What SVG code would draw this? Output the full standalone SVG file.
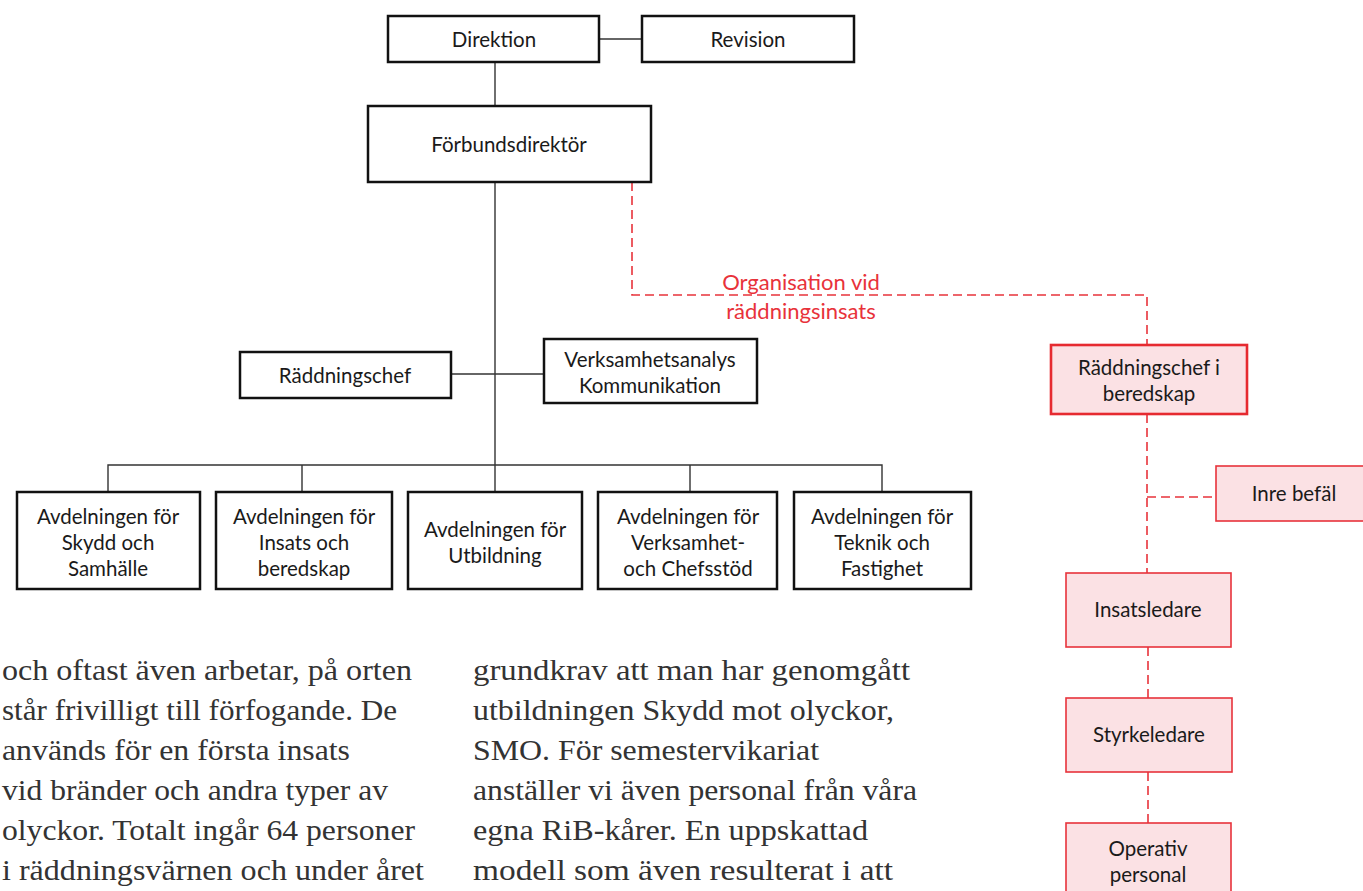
<svg xmlns="http://www.w3.org/2000/svg" width="1363" height="891" viewBox="0 0 1363 891">
<style>
.box{fill:#fff;stroke:#111;stroke-width:2.5}
.rbox{fill:#fbe1e4;stroke:#e8333b;stroke-width:1.6}
.rbox2{fill:#fbe1e4;stroke:#e62a30;stroke-width:2.6}
.t{font-family:Lato,"Open Sans",sans-serif;font-size:20.5px;fill:#1a1a1a;text-anchor:middle}
.lbl{font-family:Lato,"Open Sans",sans-serif;font-size:22px;fill:#e8323a;text-anchor:middle}
.ln{fill:none;stroke:#333;stroke-width:1.4}
.dl{fill:none;stroke:#e8333b;stroke-width:1.6;stroke-dasharray:9 5}
.body{font-family:"Liberation Serif",serif;font-size:30px;fill:#333}
</style>
<g id="connectors">
<path class="ln" d="M599,39H642"/>
<path class="ln" d="M495,62V106"/>
<path class="ln" d="M495,182V492"/>
<path class="ln" d="M451,374H544"/>
<path class="ln" d="M108,492V465H882V492M302,465V492M690,465V492"/>
<path class="dl" d="M632,182V295H1147V345"/>
<path class="dl" d="M1147,414V573M1147,497H1215"/>
<path class="dl" d="M1148,647V698M1148,772V823"/>
<text class="lbl" x="801" y="290">Organisation vid</text>
<text class="lbl" x="801" y="319">räddningsinsats</text>
</g>
<g id="direktion"><rect class="box" x="388" y="16" width="211" height="46"/><text class="t" x="494" y="47">Direktion</text></g>
<g id="revision"><rect class="box" x="642" y="16" width="212" height="46"/><text class="t" x="748" y="47">Revision</text></g>
<g id="forbundsdirektor"><rect class="box" x="368" y="106" width="283" height="76"/><text class="t" x="509" y="152">Förbundsdirektör</text></g>
<g id="raddningschef"><rect class="box" x="240" y="352" width="211" height="46"/><text class="t" x="345" y="383">Räddningschef</text></g>
<g id="verksamhetsanalys"><rect class="box" x="544" y="339" width="213" height="64"/><text class="t" x="650" y="367">Verksamhetsanalys</text><text class="t" x="650" y="393">Kommunikation</text></g>
<g id="avd1"><rect class="box" x="17" y="492" width="183" height="97"/><text class="t" x="108" y="524">Avdelningen för</text><text class="t" x="108" y="550">Skydd och</text><text class="t" x="108" y="576">Samhälle</text></g>
<g id="avd2"><rect class="box" x="216" y="492" width="176" height="97"/><text class="t" x="304" y="524">Avdelningen för</text><text class="t" x="304" y="550">Insats och</text><text class="t" x="304" y="576">beredskap</text></g>
<g id="avd3"><rect class="box" x="408" y="492" width="174" height="97"/><text class="t" x="495" y="537">Avdelningen för</text><text class="t" x="495" y="563">Utbildning</text></g>
<g id="avd4"><rect class="box" x="598" y="492" width="179" height="97"/><text class="t" x="688" y="524">Avdelningen för</text><text class="t" x="688" y="550">Verksamhet-</text><text class="t" x="688" y="576">och Chefsstöd</text></g>
<g id="avd5"><rect class="box" x="794" y="492" width="177" height="97"/><text class="t" x="882" y="524">Avdelningen för</text><text class="t" x="882" y="550">Teknik och</text><text class="t" x="882" y="576">Fastighet</text></g>
<g id="rcib"><rect class="rbox2" x="1051" y="345" width="196" height="69"/><text class="t" x="1149" y="375">Räddningschef i</text><text class="t" x="1149" y="401">beredskap</text></g>
<g id="inrebefal"><rect class="rbox" x="1216" y="466" width="150" height="55"/><text class="t" x="1294" y="501">Inre befäl</text></g>
<g id="insatsledare"><rect class="rbox" x="1066" y="573" width="165" height="74"/><text class="t" x="1148" y="617">Insatsledare</text></g>
<g id="styrkeledare"><rect class="rbox" x="1066" y="698" width="166" height="74"/><text class="t" x="1149" y="742">Styrkeledare</text></g>
<g id="operativ"><rect class="rbox" x="1066" y="823" width="165" height="75"/><text class="t" x="1148" y="856">Operativ</text><text class="t" x="1148" y="882">personal</text></g>
<g id="bodytext">
<text class="body" x="2" y="680" textLength="410" lengthAdjust="spacingAndGlyphs">och oftast även arbetar, på orten</text>
<text class="body" x="2" y="720" textLength="395" lengthAdjust="spacingAndGlyphs">står frivilligt till förfogande. De</text>
<text class="body" x="2" y="760" textLength="348" lengthAdjust="spacingAndGlyphs">används för en första insats</text>
<text class="body" x="2" y="800" textLength="386" lengthAdjust="spacingAndGlyphs">vid bränder och andra typer av</text>
<text class="body" x="2" y="840" textLength="413" lengthAdjust="spacingAndGlyphs">olyckor. Totalt ingår 64 personer</text>
<text class="body" x="2" y="880" textLength="422" lengthAdjust="spacingAndGlyphs">i räddningsvärnen och under året</text>
<text class="body" x="473" y="680" textLength="437" lengthAdjust="spacingAndGlyphs">grundkrav att man har genomgått</text>
<text class="body" x="473" y="720" textLength="421" lengthAdjust="spacingAndGlyphs">utbildningen Skydd mot olyckor,</text>
<text class="body" x="473" y="760" textLength="346" lengthAdjust="spacingAndGlyphs">SMO. För semestervikariat</text>
<text class="body" x="473" y="800" textLength="444" lengthAdjust="spacingAndGlyphs">anställer vi även personal från våra</text>
<text class="body" x="473" y="840" textLength="395" lengthAdjust="spacingAndGlyphs">egna RiB-kårer. En uppskattad</text>
<text class="body" x="473" y="880" textLength="420" lengthAdjust="spacingAndGlyphs">modell som även resulterat i att</text>
</g>
</svg>
